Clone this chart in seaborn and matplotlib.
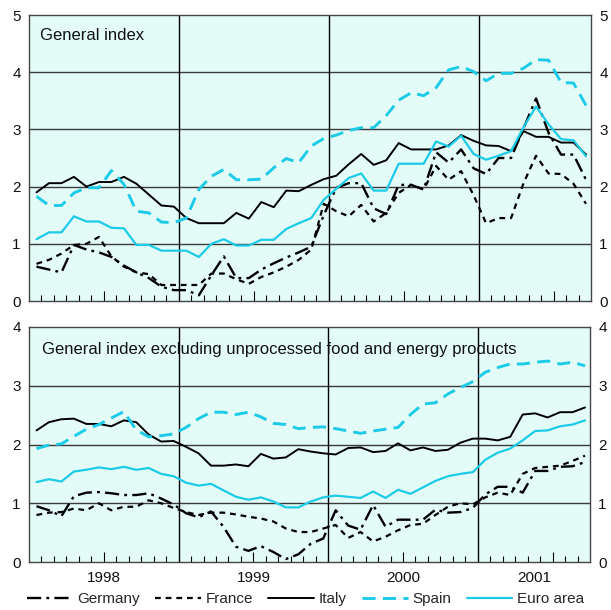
import numpy as np
import pandas as pd
import matplotlib
matplotlib.use("Agg")
import matplotlib.pyplot as plt
from matplotlib.lines import Line2D
import seaborn as sns

# Monthly annual rates of change, January 1998 - September 2001
years = ["1998", "1999", "2000", "2001"]
countries = ["Germany", "France", "Italy", "Spain", "Euro area"]

# Panel 1: general index
germany_all = [0.60, 0.55, 0.50, 0.98, 0.90, 0.85, 0.77, 0.62, 0.50, 0.40, 0.25, 0.19,
               0.19, 0.10, 0.45, 0.78, 0.40, 0.40, 0.55, 0.66, 0.76, 0.85, 0.95, 1.50,
               1.98, 2.06, 2.06, 1.62, 1.52, 2.03, 2.03, 1.95, 2.60, 2.42, 2.65, 2.32,
               2.22, 2.50, 2.50, 3.02, 3.54, 2.94, 2.56, 2.56, 2.12]
france_all = [0.65, 0.72, 0.83, 0.98, 1.00, 1.12, 0.78, 0.60, 0.50, 0.47, 0.28, 0.28,
              0.28, 0.28, 0.48, 0.48, 0.38, 0.30, 0.42, 0.50, 0.60, 0.72, 0.90, 1.70,
              1.57, 1.48, 1.68, 1.39, 1.54, 1.89, 2.03, 1.95, 2.36, 2.12, 2.27, 1.85,
              1.36, 1.45, 1.45, 2.06, 2.54, 2.23, 2.22, 2.05, 1.70]
italy_all = [1.90, 2.06, 2.06, 2.17, 2.00, 2.08, 2.08, 2.17, 2.05, 1.86, 1.67, 1.65,
             1.45, 1.36, 1.36, 1.36, 1.54, 1.44, 1.73, 1.64, 1.93, 1.92, 2.03, 2.13,
             2.19, 2.39, 2.57, 2.38, 2.46, 2.76, 2.65, 2.65, 2.65, 2.72, 2.90, 2.80,
             2.72, 2.71, 2.62, 2.97, 2.87, 2.87, 2.77, 2.77, 2.56]
spain_all = [1.83, 1.67, 1.67, 1.89, 1.98, 1.98, 2.28, 2.04, 1.57, 1.54, 1.38, 1.37,
             1.45, 1.95, 2.18, 2.30, 2.12, 2.12, 2.13, 2.33, 2.49, 2.42, 2.71, 2.84,
             2.90, 2.98, 3.03, 3.03, 3.24, 3.51, 3.64, 3.59, 3.73, 4.04, 4.10, 4.01,
             3.85, 3.98, 3.98, 4.07, 4.22, 4.21, 3.82, 3.81, 3.42]
euro_all = [1.08, 1.20, 1.20, 1.48, 1.39, 1.39, 1.28, 1.27, 0.98, 0.98, 0.88, 0.88,
            0.88, 0.77, 1.00, 1.08, 0.97, 0.97, 1.07, 1.07, 1.26, 1.36, 1.45, 1.77,
            1.96, 2.15, 2.23, 1.93, 1.93, 2.40, 2.40, 2.40, 2.79, 2.70, 2.89, 2.57,
            2.47, 2.54, 2.62, 3.04, 3.40, 3.09, 2.83, 2.81, 2.53]

# Panel 2: general index excluding unprocessed food and energy products
germany_core = [0.95, 0.88, 0.78, 1.12, 1.18, 1.19, 1.17, 1.14, 1.14, 1.17, 1.08, 0.98,
                0.83, 0.76, 0.86, 0.60, 0.26, 0.19, 0.27, 0.17, 0.05, 0.13, 0.31, 0.40,
                0.88, 0.62, 0.55, 0.97, 0.60, 0.72, 0.72, 0.72, 0.89, 0.84, 0.85, 0.92,
                1.15, 1.28, 1.28, 1.18, 1.55, 1.55, 1.62, 1.63, 1.70]
france_core = [0.80, 0.84, 0.85, 0.91, 0.88, 1.00, 0.88, 0.94, 0.94, 1.05, 1.00, 0.92,
               0.85, 0.80, 0.84, 0.84, 0.81, 0.77, 0.74, 0.69, 0.57, 0.51, 0.51, 0.57,
               0.63, 0.41, 0.51, 0.35, 0.43, 0.54, 0.63, 0.65, 0.80, 0.94, 1.00, 0.98,
               1.10, 1.18, 1.14, 1.50, 1.60, 1.62, 1.64, 1.72, 1.81]
italy_core = [2.24, 2.38, 2.43, 2.44, 2.35, 2.35, 2.31, 2.41, 2.38, 2.17, 2.05, 2.06,
              1.96, 1.85, 1.64, 1.64, 1.66, 1.63, 1.84, 1.76, 1.78, 1.92, 1.88, 1.85,
              1.83, 1.94, 1.95, 1.87, 1.89, 2.02, 1.90, 1.95, 1.89, 1.91, 2.03, 2.10,
              2.10, 2.07, 2.13, 2.51, 2.53, 2.46, 2.55, 2.55, 2.63]
spain_core = [1.93, 1.99, 2.01, 2.14, 2.26, 2.34, 2.45, 2.56, 2.25, 2.13, 2.15, 2.18,
              2.29, 2.44, 2.55, 2.55, 2.51, 2.55, 2.47, 2.36, 2.34, 2.27, 2.29, 2.30,
              2.27, 2.23, 2.19, 2.23, 2.26, 2.29, 2.51, 2.69, 2.71, 2.86, 2.97, 3.07,
              3.23, 3.31, 3.37, 3.37, 3.40, 3.42, 3.37, 3.40, 3.34]
euro_core = [1.36, 1.41, 1.37, 1.54, 1.57, 1.61, 1.58, 1.62, 1.57, 1.60, 1.50, 1.46,
             1.35, 1.30, 1.33, 1.22, 1.11, 1.06, 1.10, 1.03, 0.93, 0.93, 1.03, 1.10,
             1.13, 1.11, 1.09, 1.20, 1.09, 1.23, 1.16, 1.27, 1.38, 1.46, 1.50, 1.53,
             1.74, 1.86, 1.93, 2.07, 2.23, 2.24, 2.31, 2.34, 2.41]

panel_titles = ["General index",
                "General index excluding unprocessed food and energy products"]

CYAN = "#1ccbe8"
BG = "#e4fcf8"
styles = {
    "Germany":   dict(color="black", lw=1.7, ls=(0, (6, 2.2, 1.2, 2.2))),
    "France":    dict(color="black", lw=1.6, ls=(0, (2.6, 2.2))),
    "Italy":     dict(color="black", lw=1.4, ls="-"),
    "Spain":     dict(color=CYAN, lw=2.1, ls=(0, (4.5, 2.5))),
    "Euro area": dict(color=CYAN, lw=1.6, ls="-"),
}

n = len(italy_all)
month_pos = np.arange(n) + 0.6

def long_frame(series):
    return pd.DataFrame({"month": np.tile(month_pos, len(countries)),
                         "rate": np.concatenate([series[c] for c in countries]),
                         "country": np.repeat(countries, n)})

frames = [
    long_frame(dict(zip(countries, [germany_all, france_all, italy_all, spain_all, euro_all]))),
    long_frame(dict(zip(countries, [germany_core, france_core, italy_core, spain_core, euro_core]))),
]

sns.set_theme(style="white")
plt.rcParams["font.family"] = ["Liberation Sans", "DejaVu Sans"]

W, H = 611, 610
fig = plt.figure(figsize=(W / 100, H / 100), dpi=100)
ax_top = fig.add_axes([29 / W, 1 - 301 / H, 562 / W, 286 / H])
ax_bot = fig.add_axes([29 / W, 1 - 562 / H, 561 / W, 235 / H])

for ax, df, ymax, title in [(ax_top, frames[0], 5, panel_titles[0]),
                            (ax_bot, frames[1], 4, panel_titles[1])]:
    ax.set_facecolor(BG)
    for y in range(1, ymax):
        ax.axhline(y, color="#3a3a3a", lw=1.0, zorder=1)
    for xb in (12, 24, 36):
        ax.axvline(xb, color="black", lw=1.0, zorder=1)
    for c in countries:
        st = styles[c]
        sub = df[df["country"] == c]
        sns.lineplot(data=sub, x="month", y="rate", ax=ax, color=st["color"],
                     lw=st["lw"], linestyle=st["ls"], zorder=3, legend=False)
    ax.set_xlim(0, 45)
    ax.set_ylim(0, ymax)
    ax.set_yticks(range(0, ymax + 1))
    ax.set_yticklabels([str(v) for v in range(0, ymax + 1)])
    ax.tick_params(axis="y", which="both", left=False, right=False, length=0,
                   labelleft=True, labelright=True, labelsize=11, pad=6,
                   labelcolor="#111111")
    ax.set_xticks([6, 18, 30, 42])
    ax.set_xticks([m for m in range(1, 45) if m % 6 != 0], minor=True)
    ax.tick_params(axis="x", which="major", direction="in", length=7, width=0.8,
                   bottom=True, labelbottom=False, color="black")
    ax.tick_params(axis="x", which="minor", direction="in", length=4.5, width=0.8,
                   bottom=True, color="black")
    ax.set_xlabel("")
    ax.set_ylabel("")
    for sp in ax.spines.values():
        sp.set_color("#444444")
        sp.set_linewidth(1.0)
    ax.text(0.02 if ymax == 5 else 0.024, 0.93 if ymax == 5 else 0.905, title,
            transform=ax.transAxes, fontsize=12, color="#111111",
            ha="left", va="center")

# Year labels centred in each (visible) calendar year
year_spans = [(0, 12), (12, 24), (24, 36), (36, 45)]
for yr, (a, b) in zip(years, year_spans):
    ax_bot.text((a + b) / 2, -0.07, yr, transform=ax_bot.get_xaxis_transform(),
                ha="center", va="center", fontsize=11, color="#111111")

handles = [Line2D([], [], color=styles[c]["color"], lw=styles[c]["lw"],
                  linestyle=styles[c]["ls"]) for c in countries]
fig.legend(handles, countries, loc="center", bbox_to_anchor=(0.5, 1 - 599 / H),
           ncol=5, frameon=False, fontsize=11, handlelength=3.0,
           handletextpad=0.3, columnspacing=1.0, borderaxespad=0)

fig.savefig("out.png", dpi=100, facecolor="white")
